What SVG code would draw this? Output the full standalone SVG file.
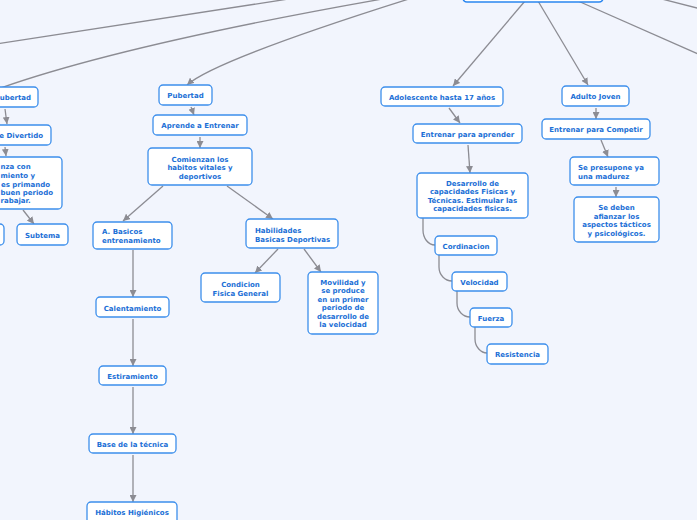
<svg xmlns="http://www.w3.org/2000/svg" width="697" height="520" viewBox="0 0 697 520">
<defs>
<style>
.bg{fill:#f2f5fd}
.n{fill:#ffffff;stroke:#3d8fec;stroke-width:1.3}
.root{fill:#ffffff;stroke:#2a86f0;stroke-width:1.6}
.t{font-family:"DejaVu Sans",Verdana,sans-serif;font-weight:bold;font-size:7px;fill:#1b6fd6}
.c{text-anchor:middle}
.e{text-anchor:end}
.l{fill:none;stroke:#8c8c93;stroke-width:1.3}
.a{marker-end:url(#arr)}
</style>
<marker id="arr" viewBox="0 0 10 10" refX="10" refY="5" markerWidth="7" markerHeight="7" markerUnits="userSpaceOnUse" orient="auto">
<path d="M0,0 L10,5 L0,10 z" fill="#8c8c93"/>
</marker>
</defs>
<rect class="bg" x="0" y="0" width="697" height="520"/>
<g id="connectors">
<path class="l" d="M295,-2 L-10,45"/>
<path class="l" d="M388,-2 Q120,45 -5,90"/>
<path class="l a" d="M412,-2 Q215,60 187,85"/>
<path class="l a" d="M525,1 L453,86"/>
<path class="l a" d="M538,1 L588,85"/>
<path class="l" d="M578,1 L705,57"/>
<path class="l" d="M650,-4 L705,10"/>
<path class="l a" d="M5,109 L7,124"/>
<path class="l a" d="M5,147 L6,156"/>
<path class="l a" d="M23,210 L34,224"/>
<path class="l a" d="M191,107 L194,115"/>
<path class="l a" d="M200,137 L200,148"/>
<path class="l a" d="M163,186 L123,221"/>
<path class="l a" d="M227,186 L273,219"/>
<path class="l a" d="M278,249 L255,273"/>
<path class="l a" d="M304,249 L321,272"/>
<path class="l a" d="M133,250 L133,297"/>
<path class="l a" d="M133,319 L133,366"/>
<path class="l a" d="M133,387 L133,434"/>
<path class="l a" d="M133,455 L133,502"/>
<path class="l a" d="M449,108 L460,123"/>
<path class="l a" d="M468,145 L470,173"/>
<path class="l" d="M423,218 L423,230 C423,238 428,245 435,245"/>
<path class="l" d="M439,255 L439,267 C439,275 445,281 452,281"/>
<path class="l" d="M457,291 L457,303 C457,311 463,317 470,317"/>
<path class="l" d="M475,327 L475,339 C475,347 481,353 487,353"/>
<path class="l a" d="M596,108 L596,119"/>
<path class="l a" d="M601,140 L608,157"/>
<path class="l a" d="M616,187 L616,197"/>
</g>
<g id="root"><rect class="root" x="463" y="-30" width="140" height="32" rx="4"/></g>
<g id="n-pubertad-left"><rect class="n" x="-15" y="87" width="53" height="20" rx="4"/><text class="t e" x="31" y="100">ubertad</text></g>
<g id="n-divertido"><rect class="n" x="-15" y="125" width="66" height="20" rx="4"/><text class="t e" x="43" y="138">e Divertido</text></g>
<g id="n-big-left"><rect class="n" x="-40" y="157" width="102" height="52" rx="4"/>
<text class="t" x="0.5" y="169">nza con</text>
<text class="t" x="0.5" y="178">miento y</text>
<text class="t e" x="50" y="186.5">es primando</text>
<text class="t e" x="53" y="195">buen periodo</text>
<text class="t" x="0.5" y="203">rabajar.</text></g>
<g id="n-left-sliver"><rect class="n" x="-20" y="224" width="24" height="21" rx="4"/></g>
<g id="n-subtema"><rect class="n" x="17" y="224" width="51" height="21" rx="4"/><text class="t c" x="42.5" y="237.5">Subtema</text></g>
<g id="n-pubertad"><rect class="n" x="159" y="85" width="53" height="20" rx="4"/><text class="t c" x="185.5" y="98">Pubertad</text></g>
<g id="n-aprende"><rect class="n" x="153" y="115" width="94" height="20" rx="4"/><text class="t c" x="200" y="128">Aprende a Entrenar</text></g>
<g id="n-comienzan"><rect class="n" x="148" y="148" width="104" height="37" rx="4"/>
<text class="t c" x="200" y="161.5">Comienzan los</text>
<text class="t c" x="200" y="170">habitos vitales y</text>
<text class="t c" x="200" y="178.5">deportivos</text></g>
<g id="n-basicos"><rect class="n" x="93" y="222" width="79" height="27" rx="4"/>
<text class="t" x="102" y="234">A. Basicos</text>
<text class="t" x="102" y="243">entrenamiento</text></g>
<g id="n-habilidades"><rect class="n" x="246" y="219" width="92" height="29" rx="4"/>
<text class="t" x="255" y="233">Habilidades</text>
<text class="t" x="255" y="242">Basicas Deportivas</text></g>
<g id="n-condicion"><rect class="n" x="201" y="273" width="79" height="29" rx="4"/>
<text class="t c" x="240.5" y="287">Condicion</text>
<text class="t c" x="240.5" y="295.5">Fisica General</text></g>
<g id="n-movilidad"><rect class="n" x="308" y="272" width="70" height="62" rx="4"/>
<text class="t c" x="343" y="284.5">Movilidad y</text>
<text class="t c" x="343" y="293">se produce</text>
<text class="t c" x="343" y="301.5">en un primer</text>
<text class="t c" x="343" y="310">periodo de</text>
<text class="t c" x="343" y="318.5">desarrollo de</text>
<text class="t c" x="343" y="327">la velocidad</text></g>
<g id="n-calentamiento"><rect class="n" x="96" y="297" width="73" height="20" rx="4"/><text class="t c" x="132.5" y="310.5">Calentamiento</text></g>
<g id="n-estiramiento"><rect class="n" x="99" y="366" width="67" height="19" rx="4"/><text class="t c" x="132.5" y="378.5">Estiramiento</text></g>
<g id="n-base"><rect class="n" x="89" y="434" width="87" height="19" rx="4"/><text class="t c" x="132.5" y="446.5">Base de la técnica</text></g>
<g id="n-habitos"><rect class="n" x="87" y="502" width="90" height="24" rx="4"/><text class="t c" x="132" y="514.5">Hábitos Higiénicos</text></g>
<g id="n-adolescente"><rect class="n" x="381" y="87" width="122" height="19" rx="4"/><text class="t c" x="442" y="99.5">Adolescente hasta 17 años</text></g>
<g id="n-entrenar-aprender"><rect class="n" x="413" y="124" width="109" height="19" rx="4"/><text class="t c" x="467.5" y="136.5">Entrenar para aprender</text></g>
<g id="n-desarrollo"><rect class="n" x="417" y="173" width="111" height="45" rx="4"/>
<text class="t c" x="472.5" y="185.5">Desarrollo de</text>
<text class="t c" x="472.5" y="194">capacidades Fisicas y</text>
<text class="t c" x="472.5" y="202.5">Técnicas. Estimular las</text>
<text class="t c" x="472.5" y="211">capacidades fisicas.</text></g>
<g id="n-cordinacion"><rect class="n" x="435" y="236" width="62" height="19" rx="4"/><text class="t c" x="466" y="248.5">Cordinacion</text></g>
<g id="n-velocidad"><rect class="n" x="452" y="272" width="55" height="19" rx="4"/><text class="t c" x="479.5" y="284.5">Velocidad</text></g>
<g id="n-fuerza"><rect class="n" x="470" y="308" width="42" height="19" rx="4"/><text class="t c" x="491" y="320.5">Fuerza</text></g>
<g id="n-resistencia"><rect class="n" x="487" y="344" width="61" height="20" rx="4"/><text class="t c" x="517.5" y="357">Resistencia</text></g>
<g id="n-adulto"><rect class="n" x="562" y="86" width="67" height="20" rx="4"/><text class="t c" x="595.5" y="99">Adulto Joven</text></g>
<g id="n-competir"><rect class="n" x="542" y="119" width="108" height="20" rx="4"/><text class="t c" x="596" y="132">Entrenar para Competir</text></g>
<g id="n-presupone"><rect class="n" x="570" y="157" width="89" height="28" rx="4"/>
<text class="t" x="578" y="169.5">Se presupone ya</text>
<text class="t" x="578" y="178.5">una madurez</text></g>
<g id="n-afianzar"><rect class="n" x="574" y="197" width="85" height="45" rx="4"/>
<text class="t c" x="616.5" y="210">Se deben</text>
<text class="t c" x="616.5" y="218.5">afianzar los</text>
<text class="t c" x="616.5" y="227">aspectos tácticos</text>
<text class="t c" x="616.5" y="235.5">y psicológicos.</text></g>
</svg>
